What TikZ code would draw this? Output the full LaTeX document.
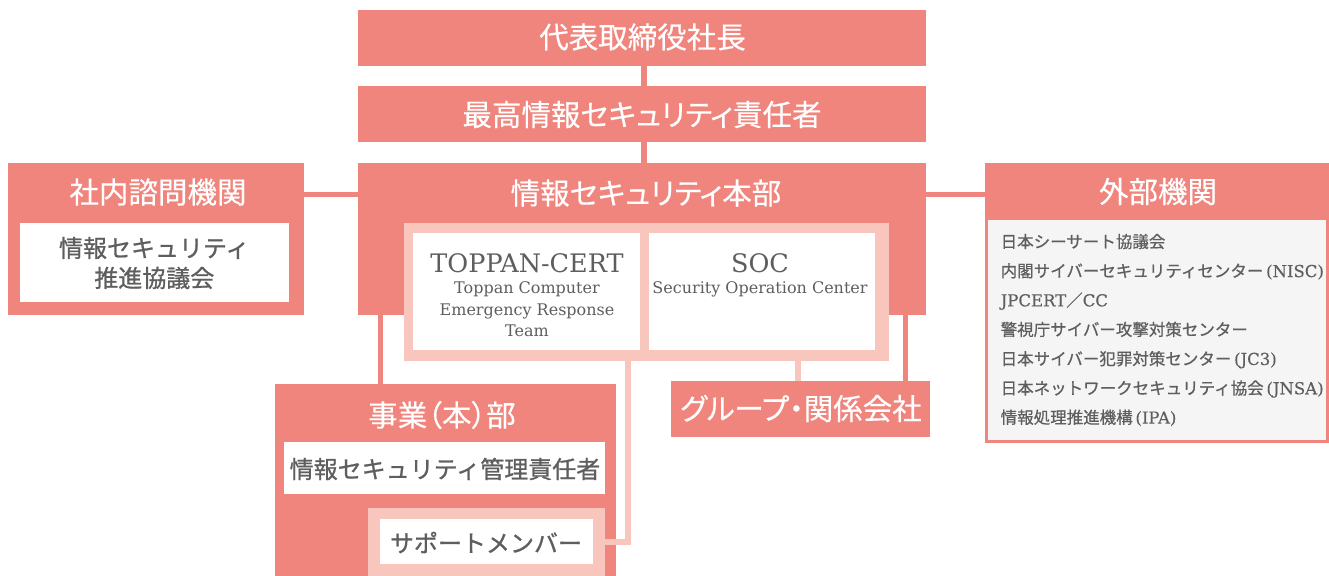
\documentclass[tikz,border=0pt]{standalone}
\usepackage{fontspec}
\newfontfamily\jp{Noto Sans CJK JP}[FakeBold=0.9]
\newfontfamily\jpl{Noto Sans CJK JP}[FakeBold=0.6]
\newfontfamily\jpp{Noto Sans CJK JP}[RawFeature=+palt, FakeBold=0.4]
\newfontfamily\ser{DejaVu Serif}
\newfontfamily\serl{DejaVu Serif}[FakeBold=0.3]
\definecolor{sal}{HTML}{F0857D}
\definecolor{lpk}{HTML}{F8C6BD}
\definecolor{gtx}{HTML}{5E5E5E}
\definecolor{lgr}{HTML}{F5F5F5}
\begin{document}
\begin{tikzpicture}[x=1pt,y=-1pt,
  bx/.style={draw=none, inner sep=0pt, outer sep=0pt, anchor=north west},
  salbox/.style={bx, fill=sal},
  lpkbox/.style={bx, fill=lpk},
  whbox/.style={bx, fill=white},
  head/.style={text=white, font=\jpp\fontsize{29.5}{34}\selectfont},
  graytxt/.style={text=gtx, font=\jp\fontsize{24}{30}\selectfont, align=center},
  sertitle/.style={text=gtx, font=\ser\fontsize{25.5}{29}\selectfont},
  sersub/.style={text=gtx, font=\ser\fontsize{16}{21.3}\selectfont, align=center},
  listtxt/.style={text=gtx, font=\jpl\fontsize{16.5}{29.3}\selectfont, align=left, inner sep=0pt},
  dc/.style={draw=sal, line width=6pt},
  lc/.style={draw=lpk, line width=6pt, line join=miter}]
\useasboundingbox (0,0) rectangle (1329,575);

% main column
\node[salbox, minimum width=568pt, minimum height=56pt] (top) at (358,10) {};
\node[head] (topt) at (642.5,37) {代表取締役社長};
\node[salbox, minimum width=568pt, minimum height=56pt] (cso) at (358,86) {};
\node[head] (csot) at (642,114.5) {最高情報セキュリティ責任者};
\node[salbox, minimum width=568pt, minimum height=151.5pt] (main) at (358,163) {};
\node[head] (maint) at (646,193) {情報セキュリティ本部};

% inner frame
\node[lpkbox, minimum width=485.5pt, minimum height=138.3pt] (frame) at (403.5,222.7) {};
\node[whbox, minimum width=226.5pt, minimum height=117pt] (cert) at (413,233) {};
\node[whbox, minimum width=226pt, minimum height=117pt] (soc) at (649,233) {};
\node[sertitle] (certt) at (527,263.5) {TOPPAN-CERT};
\node[sersub, anchor=north] (certs) at (527,278.5) {Toppan Computer\\Emergency Response\\Team};
\node[sertitle] (soct) at (760,263.5) {SOC};
\node[sersub, anchor=north] (socs) at (760,278.5) {Security Operation Center};

% left
\node[salbox, minimum width=296pt, minimum height=151.5pt] (left) at (8,163) {};
\node[head] (leftt) at (158,192) {社内諮問機関};
\node[whbox, minimum width=268.7pt, minimum height=78.4pt] (leftw) at (20,223.3) {};
\node[graytxt] (leftwt) at (154.3,263) {情報セキュリティ\\推進協議会};

% right
\node[bx, draw=sal, line width=3pt, fill=lgr, minimum width=341pt, minimum height=223.8pt] (extb) at (986.5,218) {};
\node[salbox, minimum width=344pt, minimum height=55pt] (exth) at (985,163) {};
\node[head] (extt) at (1158,191.5) {外部機関};
\node[listtxt, anchor=west] (extl) at (1000.5,330) {日本シーサート協議会\\
内閣サイバーセキュリティセンター\,{\serl(NISC)}\\
{\serl JPCERT}／{\serl CC}\\
警視庁サイバー攻撃対策センター\\
日本サイバー犯罪対策センター\,{\serl(JC3)}\\
日本ネットワークセキュリティ協会\,{\serl(JNSA)}\\
情報処理推進機構\,{\serl(IPA)}};

% business division
\node[salbox, minimum width=340.7pt, minimum height=194pt] (biz) at (275,384) {};
\node[head] (bizt) at (442,415) {事業（本）部};
\node[whbox, minimum width=321pt, minimum height=52pt] (bizw) at (284,442) {};
\node[graytxt] (bizwt) at (445,469) {情報セキュリティ管理責任者};
\node[lpkbox, minimum width=237pt, minimum height=70pt] (supf) at (368,508) {};
\node[whbox, minimum width=213pt, minimum height=44.5pt] (supw) at (380,519) {};
\node[graytxt] (supwt) at (486,542.5) {サポートメンバー};

% group
\node[salbox, minimum width=259pt, minimum height=56pt] (grp) at (671,381) {};
\node[head] (grpt) at (801,408.5) {グループ・関係会社};

% connectors
\coordinate (hy) at (0,194.5);
\coordinate (vx0) at (644,0);
\coordinate (vx1) at (380.5,0);
\coordinate (vx2) at (905.5,0);
\coordinate (vx3) at (797.5,0);
\coordinate (vx4) at (628,0);
\coordinate (hy2) at (0,542);
\draw[dc] (top.south -| vx0) -- (cso.north -| vx0);
\draw[dc] (cso.south -| vx0) -- (main.north -| vx0);
\draw[dc, line width=5.5pt] (left.east |- hy) -- (main.west |- hy);
\draw[dc, line width=5.5pt] (main.east |- hy) -- (exth.west |- hy);
\draw[dc, line width=5.5pt] (main.south -| vx1) -- (biz.north -| vx1);
\draw[dc, line width=5.5pt] (main.south -| vx2) -- (grp.north -| vx2);
\draw[lc] (frame.south -| vx3) -- (grp.north -| vx3);
\draw[lc] (frame.south -| vx4) |- (supf.east |- hy2);
\end{tikzpicture}
\end{document}
